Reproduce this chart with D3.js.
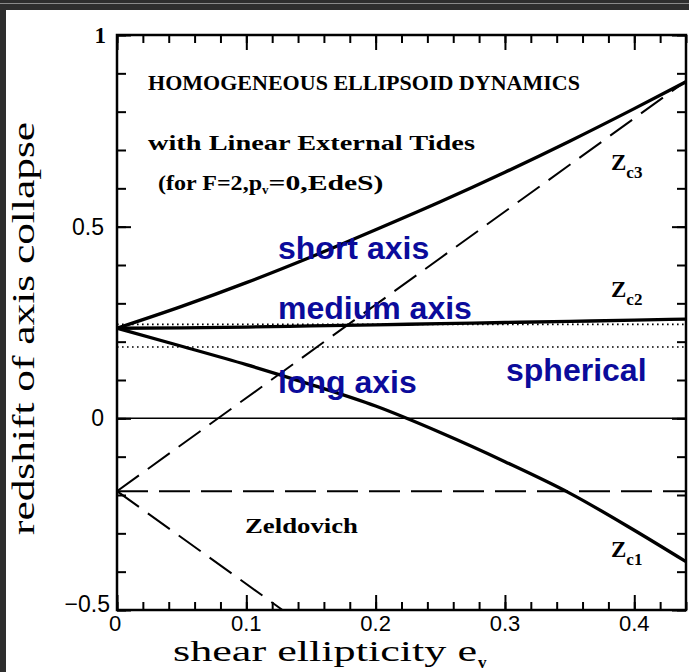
<!DOCTYPE html>
<html>
<head>
<meta charset="utf-8">
<script src="https://cdn.jsdelivr.net/npm/d3@7"></script>
<style>
  body { margin: 0; background: #fff; }
  svg { display: block; }
</style>
</head>
<body>
<div id="chart"></div>
<script>
// ellipticity grid and collapse redshifts
const eGrid = [0, 0.05, 0.10, 0.15, 0.20, 0.25, 0.30, 0.35, 0.40, 0.44];
const zc3 = [0.235, 0.292, 0.354, 0.421, 0.492, 0.565, 0.642, 0.723, 0.808, 0.878];
const zc2 = [0.235, 0.236, 0.238, 0.241, 0.244, 0.247, 0.25, 0.253, 0.256, 0.259];
const zc1 = [0.235, 0.188, 0.14, 0.088, 0.032, -0.037, -0.113, -0.195, -0.292, -0.374];

// Zeldovich approximation (dashed) and spherical levels (dotted)
const zeldovichUp = [[0, -0.19], [0.44, 0.88]];
const zeldovichDown = [[0, -0.19], [0.128, -0.5]];
const zeldovichFlat = -0.19;
const sphericalLevels = [0.245, 0.186];

const xMajor = [0, 0.1, 0.2, 0.3, 0.4];
const xLabels = ["0", "0.1", "0.2", "0.3", "0.4"];
const xMinor = d3.range(0, 0.441, 0.02);
const yMajor = [-0.5, 0, 0.5, 1];
const yLabels = ["\u22120.5", "0", "0.5", "1"];
const yMinor = d3.range(-0.5, 1.01, 0.1);

const W = 689, H = 672;
const svg = d3.select('#chart').append('svg')
  .attr('width', W).attr('height', H);

// dark screenshot frame on top and left
svg.append('rect').attr('x', 0).attr('y', 0).attr('width', W).attr('height', 10).attr('fill', '#2e2e2e');
svg.append('rect').attr('x', 0).attr('y', 0).attr('width', 6).attr('height', H).attr('fill', '#2e2e2e');
svg.append('line').attr('x1', 0).attr('x2', W).attr('y1', 3.5).attr('y2', 3.5).attr('stroke', '#8a8a8a').attr('stroke-width', 1);

const x = d3.scaleLinear().domain([0, 0.44]).range([117, 686]);
const y = d3.scaleLinear().domain([-0.5, 1]).range([610, 35]);

const serif = "'Liberation Serif', 'Times New Roman', serif";
const sans = "'Liberation Sans', Arial, sans-serif";

const plot = svg.append('g');
plot.append('clipPath').attr('id', 'clip')
  .append('rect').attr('x', x(0)).attr('y', y(1)).attr('width', x(0.44) - x(0)).attr('height', y(-0.5) - y(1));
const inner = plot.append('g').attr('clip-path', 'url(#clip)');

// axes: inward ticks on all four sides
function ticks(axis, vals, size, tr) {
  const g = plot.append('g').attr('transform', tr)
    .call(axis.tickValues(vals).tickSize(size).tickFormat(''));
  g.select('.domain').remove();
  g.selectAll('line').attr('stroke', '#000').attr('stroke-width', 2);
  return g;
}
ticks(d3.axisBottom(x), xMinor, -8, `translate(0,${y(-0.5)})`);
ticks(d3.axisBottom(x), xMajor, -15, `translate(0,${y(-0.5)})`);
ticks(d3.axisTop(x), xMinor, -8, `translate(0,${y(1)})`);
ticks(d3.axisTop(x), xMajor, -15, `translate(0,${y(1)})`);
ticks(d3.axisLeft(y), yMinor, -9, `translate(${x(0)},0)`);
ticks(d3.axisLeft(y), yMajor, -14, `translate(${x(0)},0)`);
ticks(d3.axisRight(y), yMinor, -9, `translate(${x(0.44)},0)`);
ticks(d3.axisRight(y), yMajor, -14, `translate(${x(0.44)},0)`);

plot.append('rect')
  .attr('x', x(0)).attr('y', y(1))
  .attr('width', x(0.44) - x(0)).attr('height', y(-0.5) - y(1))
  .attr('fill', 'none').attr('stroke', '#000').attr('stroke-width', 2.5);

// tick labels
plot.selectAll('.xlab').data(xMajor).enter().append('text')
  .attr('class', 'xlab')
  .attr('x', d => x(d) + (d === 0 ? -2 : 0)).attr('y', 631)
  .attr('text-anchor', 'middle')
  .attr('font-family', sans).attr('font-size', 22)
  .text((d, i) => xLabels[i]);

plot.selectAll('.ylab').data(yMajor).enter().append('text')
  .attr('class', 'ylab')
  .attr('x', d => d === 1 ? 106 : (d === -0.5 ? 110 : 104))
  .attr('y', d => y(d) + (d === -0.5 ? 2 : 8))
  .attr('text-anchor', 'end')
  .attr('font-family', d => d === 1 ? serif : sans)
  .attr('font-weight', d => d === 1 ? 'bold' : 'normal')
  .attr('font-size', 23)
  .text((d, i) => yLabels[i]);

// axis titles
svg.append('text')
  .attr('x', 173).attr('y', 661)
  .attr('font-family', serif).attr('font-size', 29)
  .attr('textLength', 304).attr('lengthAdjust', 'spacingAndGlyphs')
  .text('shear ellipticity e');
svg.append('text')
  .attr('x', 478).attr('y', 668)
  .attr('font-family', serif).attr('font-size', 17).attr('font-weight', 'bold')
  .text('v');

svg.append('text')
  .attr('transform', 'translate(34,535) rotate(-90)')
  .attr('font-family', serif).attr('font-size', 32)
  .attr('textLength', 413).attr('lengthAdjust', 'spacingAndGlyphs')
  .text('redshift of axis collapse');

// reference lines
const yLine = v => inner.append('line')
  .attr('x1', x(0)).attr('x2', x(0.44)).attr('y1', y(v)).attr('y2', y(v))
  .attr('stroke', '#000');

yLine(0).attr('stroke-width', 1.5);
sphericalLevels.forEach(v => yLine(v).attr('stroke-width', 1.6).attr('stroke-dasharray', '1.6,3.4'));
yLine(zeldovichFlat).attr('stroke-width', 2).attr('stroke-dasharray', '31,11');

const straight = d3.line().x(d => x(d[0])).y(d => y(d[1]));
[zeldovichUp, zeldovichDown].forEach(seg => {
  inner.append('path').attr('d', straight(seg))
    .attr('fill', 'none').attr('stroke', '#000')
    .attr('stroke-width', 2).attr('stroke-dasharray', '27,11');
});

// axis collapse curves
const curve = d3.line().x((d, i) => x(eGrid[i])).y(d => y(d)).curve(d3.curveMonotoneX);
[zc3, zc2, zc1].forEach(series => {
  inner.append('path').attr('d', curve(series))
    .attr('fill', 'none').attr('stroke', '#000')
    .attr('stroke-width', 3.3).attr('stroke-linejoin', 'round');
});

// black annotation text
const note = (tx, ty, size, len) => {
  const t = svg.append('text').attr('x', tx).attr('y', ty)
    .attr('font-family', serif).attr('font-weight', 'bold').attr('font-size', size);
  if (len) t.attr('textLength', len).attr('lengthAdjust', 'spacingAndGlyphs');
  return t;
};
note(148, 90, 21, 432).text('HOMOGENEOUS ELLIPSOID DYNAMICS');
note(148, 150, 22, 327).text('with Linear External Tides');
const sub = note(158, 190, 21);
sub.append('tspan').attr('textLength', 104).attr('lengthAdjust', 'spacingAndGlyphs').text('(for F=2,p');
sub.append('tspan').attr('font-size', 13).attr('dy', 4).text('v');
sub.append('tspan').attr('dy', -4).attr('textLength', 115).attr('lengthAdjust', 'spacingAndGlyphs').text('=0,EdeS)');
note(245, 533, 21, 113).text('Zeldovich');

const zLabel = (tx, ty, s) => {
  const t = note(tx, ty, 23);
  t.append('tspan').text('Z');
  t.append('tspan').attr('font-size', 17).attr('dy', 8).text(s);
};
zLabel(611, 170, 'c3');
zLabel(611, 297, 'c2');
zLabel(611, 557, 'c1');

// blue region labels
const blue = (tx, ty, s) => svg.append('text').attr('x', tx).attr('y', ty)
  .attr('font-family', sans).attr('font-weight', 'bold').attr('font-size', 32)
  .attr('fill', '#0b0b9b').text(s);
blue(278, 259, 'short axis');
blue(278, 319, 'medium axis');
blue(278, 393, 'long axis');
blue(506, 381, 'spherical');
</script>
</body>
</html>
